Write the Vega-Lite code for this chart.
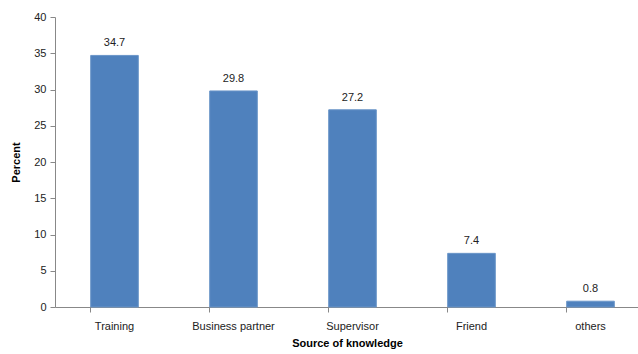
{
  "$schema": "https://vega.github.io/schema/vega-lite/v6.json",
  "width": 595,
  "height": 290,
  "autosize": {"type": "none"},
  "padding": {"left": 55, "top": 17, "right": 0, "bottom": 47},
  "background": "white",
  "config": {"view": {"stroke": null}, "font": "Liberation Sans"},
  "data": {"values": [
    {"source": "Training", "percent": 34.7},
    {"source": "Business partner", "percent": 29.8},
    {"source": "Supervisor", "percent": 27.2},
    {"source": "Friend", "percent": 7.4},
    {"source": "others", "percent": 0.8}
  ]},
  "encoding": {
    "x": {"field": "source", "type": "nominal", "sort": null,
      "scale": {"paddingInner": 0.6, "paddingOuter": 0.3},
      "axis": {"title": "Source of knowledge", "titleX": 292, "labelAngle": 0, "labelFontSize": 11, "labelColor": "#222", "labelPadding": 8,
        "ticks": true, "bandPosition": 0, "tickColor": "#888", "tickSize": 5, "domainColor": "#888",
        "titleFontSize": 11, "titleFontWeight": "bold", "titleColor": "#000", "titlePadding": 6}},
    "y": {"field": "percent", "type": "quantitative",
      "scale": {"domain": [0, 40]},
      "axis": {"title": "Percent", "values": [0,5,10,15,20,25,30,35,40], "grid": false, "labelFontSize": 11, "labelColor": "#222",
        "tickColor": "#888", "tickSize": 5, "domainColor": "#888", "labelPadding": 4,
        "titleFontSize": 11, "titleFontWeight": "bold", "titleColor": "#000", "titlePadding": 12}}
  },
  "layer": [
    {"mark": {"type": "bar", "color": "#4F81BD", "stroke": "#6A95C8", "strokeWidth": 1}},
    {"mark": {"type": "text", "dy": -12, "fontSize": 11, "color": "#222"},
     "encoding": {"text": {"field": "percent", "type": "quantitative", "format": ".1f"}}}
  ]
}
